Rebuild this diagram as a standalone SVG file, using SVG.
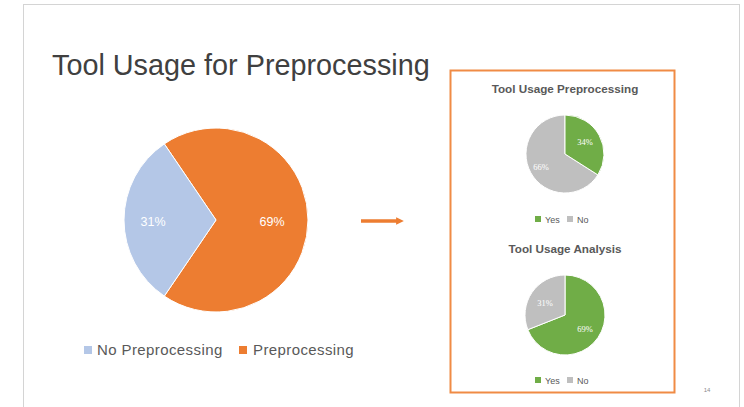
<svg xmlns="http://www.w3.org/2000/svg" width="744" height="407" viewBox="0 0 744 407">
<defs>
<style>
.t{font-family:"Liberation Sans",Arial,sans-serif}
.title{font-size:28.8px;fill:#404040}
.lbl{font-size:12.5px;fill:#ffffff;text-anchor:middle}
.leg{font-size:15px;fill:#595959;letter-spacing:0.4px}
.stitle{font-size:11.7px;font-weight:bold;fill:#595959;text-anchor:middle}
.slbl{font-family:"Liberation Serif",serif;font-size:8.5px;fill:#ffffff;text-anchor:middle}
.sleg{font-size:9px;fill:#595959}
.sep{stroke:#ffffff;stroke-width:1}
</style>
<marker id="ah" viewBox="0 0 10 10" refX="5" refY="5" markerWidth="2.2" markerHeight="2.8" orient="auto" markerUnits="strokeWidth">
<path d="M0,0 L10,5 L0,10 Z" fill="#ED7D31"/>
</marker>
</defs>
<rect width="744" height="407" fill="#ffffff"/>
<rect x="23.5" y="4.5" width="716" height="420" fill="none" stroke="#d4d4d4" stroke-width="1"/>
<text class="t title" x="52" y="75">Tool Usage for Preprocessing</text>
<g id="main-pie">
<path class="sep" d="M216,220 L164.3,143.9 A92,92 0 1 1 164.3,296.1 Z" fill="#ED7D31"/>
<path class="sep" d="M216,220 L164.3,296.1 A92,92 0 0 1 164.3,143.9 Z" fill="#B4C7E7"/>
<text class="t lbl" x="153" y="226">31%</text>
<text class="t lbl" x="272" y="226">69%</text>
</g>
<g id="main-legend">
<rect x="84" y="346" width="8" height="8" fill="#B4C7E7"/>
<text class="t leg" x="97" y="355">No Preprocessing</text>
<rect x="239" y="346" width="8" height="8" fill="#ED7D31"/>
<text class="t leg" x="253" y="355">Preprocessing</text>
</g>
<g id="connectors">
<line x1="361" y1="221" x2="400" y2="221" stroke="#ED7D31" stroke-width="3.5" marker-end="url(#ah)"/>
</g>
<g id="panel">
<rect x="450.5" y="70.5" width="224" height="322" fill="none" stroke="#F08B45" stroke-width="2"/>
</g>
<g id="chart-preprocessing">
<text class="t stitle" x="565" y="93">Tool Usage Preprocessing</text>
<path class="sep" d="M565,154 L597.9,174.9 A39,39 0 1 1 565,115 Z" fill="#BFBFBF"/>
<path class="sep" d="M565,154 L565,115 A39,39 0 0 1 597.9,174.9 Z" fill="#70AD47"/>
<text class="slbl" x="585" y="145">34%</text>
<text class="slbl" x="541" y="170">66%</text>
<rect x="535" y="216" width="6" height="6" fill="#70AD47"/>
<text class="t sleg" x="545" y="223">Yes</text>
<rect x="567" y="216" width="6" height="6" fill="#BFBFBF"/>
<text class="t sleg" x="577" y="223">No</text>
</g>
<g id="chart-analysis">
<text class="t stitle" x="565" y="253">Tool Usage Analysis</text>
<path class="sep" d="M565,315 L565,275 A40,40 0 1 1 527.8,329.7 Z" fill="#70AD47"/>
<path class="sep" d="M565,315 L527.8,329.7 A40,40 0 0 1 565,275 Z" fill="#BFBFBF"/>
<text class="slbl" x="545" y="306">31%</text>
<text class="slbl" x="585" y="332">69%</text>
<rect x="535" y="377" width="6" height="6" fill="#70AD47"/>
<text class="t sleg" x="545" y="384">Yes</text>
<rect x="567" y="377" width="6" height="6" fill="#BFBFBF"/>
<text class="t sleg" x="577" y="384">No</text>
</g>
<text class="t" x="707" y="392" font-size="6" fill="#8c8c8c" text-anchor="middle">14</text>
</svg>
